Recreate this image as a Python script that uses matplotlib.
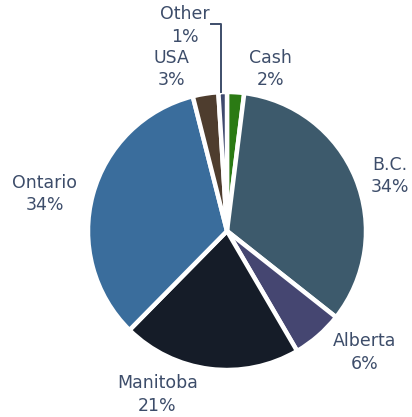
import matplotlib.pyplot as plt

# Данные
categories = ['Cash', 'B.C.', 'Alberta', 'Manitoba', 'Ontario', 'USA', 'Other']
shares = [2, 34, 6, 21, 34, 3, 1]
colors = ['#2b7a14', '#3d5a6c', '#454671', '#151c28', '#3a6d9c', '#4e3d2e', '#3f4a6e']

# Положение подписей (в радиусах пирога)
label_pos = [(0.31, 1.165), (1.17, 0.395), (0.99, -0.875), (-0.50, -1.175),
             (-1.31, 0.265), (-0.40, 1.165), (-0.30, 1.48)]

text_color = '#3d4d6a'

fig = plt.figure(figsize=(4.12, 4.17), dpi=100)
ax = fig.add_axes([0, 0, 1, 1])

wedges, _ = ax.pie(shares, colors=colors, startangle=90, counterclock=False,
                   wedgeprops=dict(edgecolor='white', linewidth=3.2))

for name, val, (x, y) in zip(categories, shares, label_pos):
    ax.text(x, y, f'{name}\n{val}%', ha='center', va='center',
            fontsize=12.5, color=text_color, linespacing=1.33)

# Выноска для "Other"
ax.plot([-0.043, -0.043, -0.115], [1.0, 1.49, 1.49], color=text_color, lw=1.4)

ax.set_xlim(-227 / 139, (412 - 227) / 139)
ax.set_ylim(-186 / 139, 231 / 139)
ax.set_aspect('equal', adjustable='box')
ax.axis('off')

fig.savefig('out.png', dpi=100)
